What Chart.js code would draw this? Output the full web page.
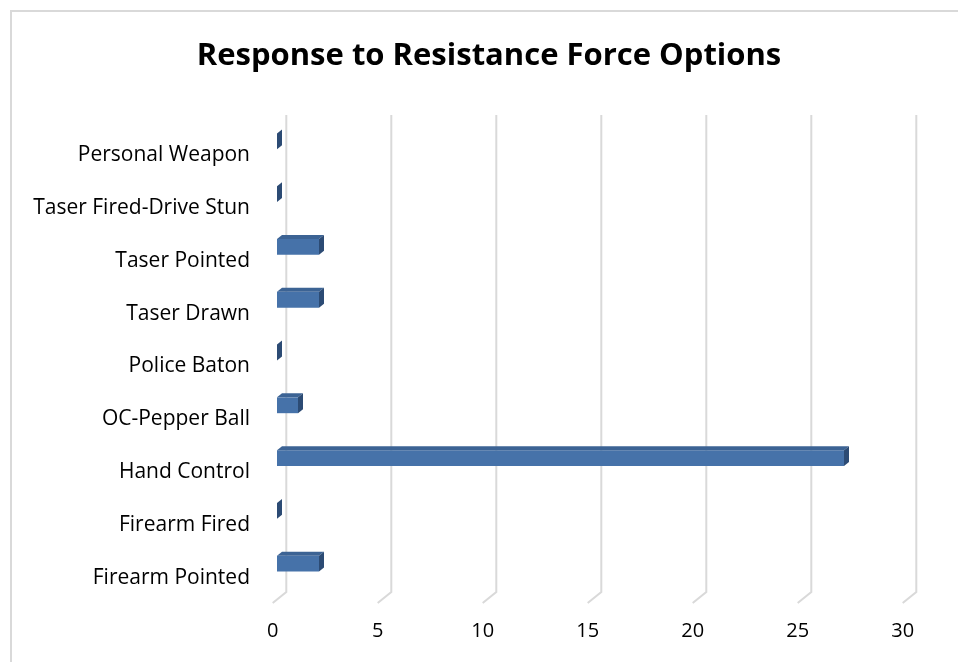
<!DOCTYPE html>
<html>
<head>
<meta charset="utf-8">
<script src="https://cdn.jsdelivr.net/npm/chart.js@4.4.1/dist/chart.umd.min.js"></script>
<style>
  html, body { margin: 0; padding: 0; background: #ffffff; }
  #wrap { width: 958px; height: 662px; position: relative; }
</style>
</head>
<body>
<div id="wrap"><canvas id="chart" width="958" height="662"></canvas></div>
<script>
// Force options used, listed top to bottom
const categories = [
  'Personal Weapon',
  'Taser Fired-Drive Stun',
  'Taser Pointed',
  'Taser Drawn',
  'Police Baton',
  'OC-Pepper Ball',
  'Hand Control',
  'Firearm Fired',
  'Firearm Pointed'
];
const counts = [0, 0, 2, 2, 0, 1, 27, 0, 2];
const axisMin = 0;
const axisMax = 30;
const axisStep = 5;
const chartTitle = 'Response to Resistance Force Options';

const FONT = '"Open Sans", Lato, "Liberation Sans", sans-serif';

// depth of the 3D bars and of the back wall
const BAR_DX = 5, BAR_DY = -4;
const WALL_BACK = 9.3, WALL_FRONT = -4.3, FLOOR_DROP = 11;

// Light frame around the whole chart, plus the heading
const framePlugin = {
  id: 'frame',
  beforeDraw(chart) {
    const ctx = chart.ctx;
    ctx.save();
    ctx.fillStyle = '#ffffff';
    ctx.fillRect(0, 0, chart.width, chart.height);
    ctx.strokeStyle = '#d9d9d9';
    ctx.lineWidth = 2;
    ctx.strokeRect(11, 11, chart.width + 50, chart.height + 50);
    ctx.restore();
  },
  afterDraw(chart) {
    const ctx = chart.ctx;
    ctx.save();
    ctx.fillStyle = '#000000';
    ctx.font = 'bold 31px ' + FONT;
    ctx.textAlign = 'center';
    ctx.textBaseline = 'middle';
    ctx.fillText(chartTitle, (chart.width + 20) / 2, 56);
    ctx.restore();
  }
};

// Vertical gridlines on the back wall, folding forward onto the floor
const wallGridPlugin = {
  id: 'wallGrid',
  beforeDatasetsDraw(chart) {
    const { ctx, chartArea, scales } = chart;
    const xs = scales.x;
    ctx.save();
    ctx.strokeStyle = '#d9d9d9';
    ctx.lineWidth = 2;
    xs.ticks.forEach(t => {
      const px = xs.getPixelForValue(t.value);
      const back = px + WALL_BACK;
      const front = px + WALL_FRONT;
      ctx.beginPath();
      ctx.moveTo(back, chartArea.top);
      ctx.lineTo(back, chartArea.bottom + 2);
      ctx.lineTo(front, chartArea.bottom + 2 + FLOOR_DROP);
      ctx.stroke();
    });
    ctx.restore();
  }
};

// Top and side faces that give each bar its depth
const barDepthPlugin = {
  id: 'barDepth',
  afterDatasetsDraw(chart) {
    const ctx = chart.ctx;
    const meta = chart.getDatasetMeta(0);
    ctx.save();
    meta.data.forEach(bar => {
      const p = bar.getProps(['x', 'y', 'base', 'height'], true);
      const top = p.y - p.height / 2;
      const bottom = p.y + p.height / 2;
      const left = Math.min(p.base, p.x);
      const right = Math.max(p.base, p.x);
      // top face
      if (right - left > 0.5) {
        ctx.fillStyle = '#3c6394';
        ctx.beginPath();
        ctx.moveTo(left, top);
        ctx.lineTo(right, top);
        ctx.lineTo(right + BAR_DX, top + BAR_DY);
        ctx.lineTo(left + BAR_DX, top + BAR_DY);
        ctx.closePath();
        ctx.fill();
      }
      // side face
      ctx.fillStyle = '#2c4b74';
      ctx.beginPath();
      ctx.moveTo(right, top);
      ctx.lineTo(right + BAR_DX, top + BAR_DY);
      ctx.lineTo(right + BAR_DX, bottom + BAR_DY);
      ctx.lineTo(right, bottom);
      ctx.closePath();
      ctx.fill();
    });
    ctx.restore();
  }
};

new Chart(document.getElementById('chart'), {
  type: 'bar',
  data: {
    labels: categories,
    datasets: [{
      data: counts,
      backgroundColor: '#4672a9',
      borderWidth: 0,
      categoryPercentage: 0.3,
      barPercentage: 1.0
    }]
  },
  plugins: [framePlugin, wallGridPlugin, barDepthPlugin],
  options: {
    indexAxis: 'y',
    responsive: false,
    animation: false,
    devicePixelRatio: 1,
    layout: { padding: { left: 14, right: 51, top: 115, bottom: 0 } },
    plugins: {
      legend: { display: false },
      tooltip: { enabled: false },
      title: { display: false }
    },
    scales: {
      x: {
        type: 'linear',
        min: axisMin,
        max: axisMax,
        grid: { display: false, drawTicks: false },
        border: { display: false },
        ticks: {
          stepSize: axisStep,
          color: '#000000',
          font: { family: FONT, size: 20 },
          padding: 29,
          labelOffset: WALL_FRONT
        },
        afterFit(scale) { scale.height = 72; }
      },
      y: {
        grid: { display: false, drawTicks: false },
        border: { display: false },
        ticks: {
          color: '#000000',
          font: { family: FONT, size: 21 },
          padding: 27,
          labelOffset: 14
        },
        afterFit(scale) { scale.width = 263; }
      }
    }
  }
});
</script>
</body>
</html>
